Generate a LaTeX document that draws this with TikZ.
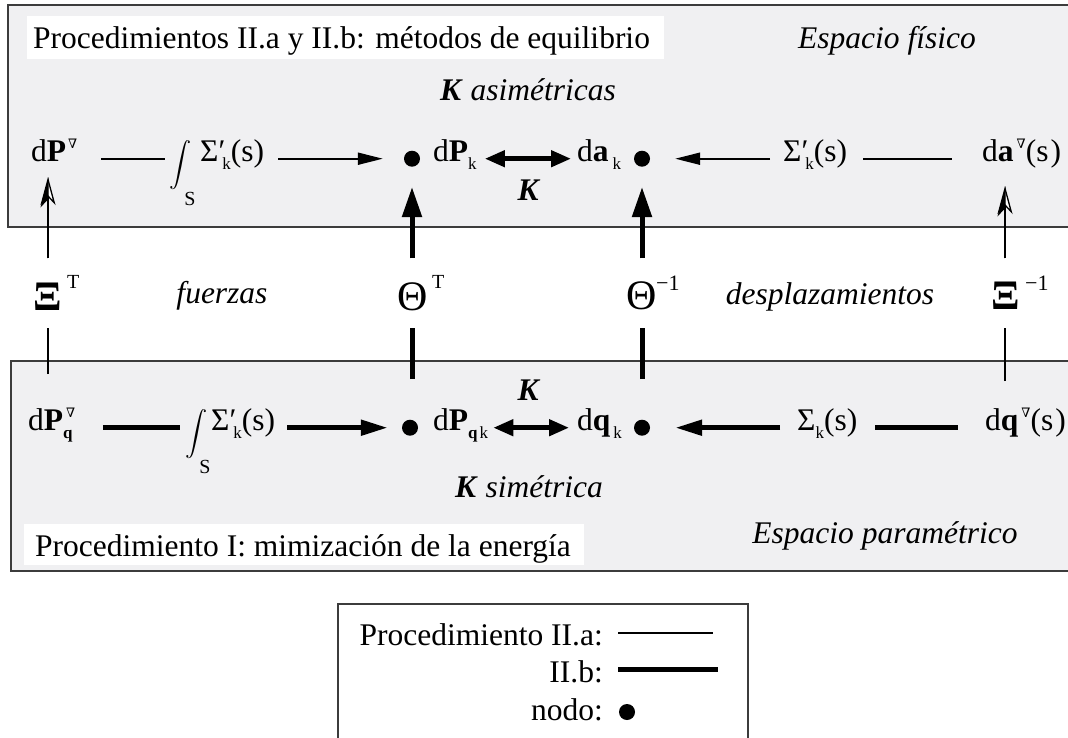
\RequirePackage{fix-cm}
\documentclass[tikz,border=0pt]{standalone}
\usepackage{fontspec}
\usepackage{graphicx}
\setmainfont{Liberation Serif}
\newfontfamily\dvs{DejaVu Serif}
\usetikzlibrary{arrows.meta}
\definecolor{boxgrey}{RGB}{240,240,242}
\definecolor{edgegrey}{RGB}{60,60,60}
\newcommand{\msz}{\fontsize{31.5}{36}\selectfont}
\newcommand{\gsz}{\fontsize{42}{48}\selectfont}
\newcommand{\mysup}[1]{\raisebox{12pt}{\fontsize{17}{17}\selectfont #1}}
\newcommand{\mysub}[1]{\raisebox{-8pt}{\fontsize{17}{17}\selectfont #1}}
\newcommand{\gsupT}{\raisebox{22pt}{\fontsize{20}{20}\selectfont T}}
\newcommand{\gsupI}{\raisebox{19pt}{\fontsize{22}{22}\selectfont −1}}
\newcommand{\nab}{\raisebox{13pt}{\dvs\fontsize{13}{13}\selectfont ∇}}
\newcommand{\intg}{\resizebox{!}{42pt}{$\displaystyle\int$}}
\tikzset{
  every node/.style={inner sep=0pt, font=\msz},
  txt/.style={anchor=base west},
  dotn/.style={circle, fill=black, minimum size=16pt, inner sep=0pt},
  glab/.style={minimum height=69pt, font=\gsz},
  thinln/.style={line width=2pt},
  thickln/.style={line width=5pt},
  thinarr/.style={thinln, -{Triangle[length=25pt,width=12pt]}},
  thickarr/.style={thickln, -{Triangle[length=27pt,width=15pt]}},
  dblarr/.style={line width=4.5pt, {Triangle[length=20pt,width=16pt]}-{Triangle[length=20pt,width=16pt]}},
  vthick/.style={line width=5pt, -{Triangle[length=30pt,width=19pt]}},
  openarr/.style={line width=2pt, -{Stealth[length=28pt,width=15pt,inset=8pt,fill=white,line width=1.3pt]}},
  halfarr/.style={line width=2pt, -{Stealth[length=28pt,width=15pt,inset=8pt,harpoon,line width=1.3pt]}},
  panel/.style={fill=boxgrey, draw=edgegrey, line width=1.5pt},
  kbi/.style={font=\fontsize{31.5}{36}\selectfont\bfseries\itshape}
}
\begin{document}
\begin{tikzpicture}[x=1pt,y=-1pt]
\useasboundingbox (0,0) rectangle (1068,737);
% panels
\draw[panel] (8,5) rectangle (1090,227);
\draw[panel] (11,361) rectangle (1090,571);
\fill[white] (27,16) rectangle (664,59);
\fill[white] (24,524) rectangle (584,565);
% headings
\node[txt] (titTop) at (33,48) {Procedimientos II.a y II.b: métodos de equilibrio};
\node[anchor=base] (espF) at (887,48) {\textit{Espacio físico}};
\node[anchor=base] (kasim) at (528,100) {\textbf{\textit{K}} \textit{asimétricas}};
\node[txt] (titBot) at (35,556) {Procedimiento I: mimización de la energía};
\node[anchor=base] (espP) at (885,543) {\textit{Espacio paramétrico}};
\node[anchor=base] (ksim) at (529,497) {\textbf{\textit{K}} \textit{simétrica}};
% top row
\node[txt] (dPT) at (31,161) {d\textbf{P}\kern2pt\nab};
\node (intT) at (181,165) {\intg};
\node[font=\fontsize{20}{20}\selectfont] (ST) at (190,199) {S};
\node[txt] (SigT) at (200,161) {Σ′\kern-3pt\mysub{k}(s)};
\node[txt] (dPk) at (433,161) {d\textbf{P}\mysub{k}};
\node[dotn] (dotA) at (412,0 |- dPk.mid west) {};
\node[kbi] (Ktop) at (528,190) {K};
\node[txt] (dak) at (577,161) {d\textbf{a}\kern4pt\mysub{k}};
\node[dotn] (dotB) at (642,0 |- dak.mid west) {};
\node[txt] (SigT2) at (783,161) {Σ′\kern-3pt\mysub{k}(s)};
\node[txt] (daT) at (982,161) {d\textbf{a}\kern3pt\nab(s\kern2pt)};
\draw[thinln, shorten <=24pt, shorten >=5pt] (dPT.mid east) -- (intT.west |- dPT.mid east);
\draw[thinarr, shorten <=14pt, shorten >=21pt] (SigT.mid east) -- (dotA.west);
\draw[dblarr, shorten <=8pt, shorten >=6pt] (dPk.mid east) -- (dak.mid west);
\draw[thinarr, shorten <=13pt, shorten >=25pt] (SigT2.mid west) -- (dotB.east);
\draw[thinln, shorten <=16pt, shorten >=30pt] (SigT2.mid east) -- (daT.mid west);
% bottom row
\node[txt] (dPqB) at (28,430) {d\textbf{P}\rlap{\kern3pt\nab}\mysub{\textbf{q}}};
\node (intB) at (197,434) {\intg};
\node[font=\fontsize{20}{20}\selectfont] (SB) at (205,467) {S};
\node[txt] (SigB) at (211,430) {Σ′\kern-3pt\mysub{k}(s)};
\node[txt] (dPqk) at (433,430) {d\textbf{P}\mysub{\textbf{q}\kern2pt k}};
\node[dotn] (dotC) at (410,0 |- dPqk.mid west) {};
\node[kbi] (Kbot) at (528,390) {K};
\node[txt] (dqk) at (577,430) {d\textbf{q}\kern3pt\mysub{k}};
\node[dotn] (dotD) at (642,0 |- dqk.mid west) {};
\node[txt] (SigkB) at (797,430) {Σ\mysub{k}(s)};
\node[txt] (dqB) at (985,430) {d\textbf{q}\kern3pt\nab(s\kern2pt)};
\draw[thickln, shorten <=30pt, shorten >=6pt] (dPqB.mid east) -- (intB.west |- dPqB.mid east);
\draw[thickarr, shorten <=12pt, shorten >=14pt] (SigB.mid east) -- (dotC.west);
\draw[dblarr, shorten <=5pt, shorten >=8pt] (dPqk.mid east) -- (dqk.mid west);
\draw[thickarr, shorten <=17pt, shorten >=25pt] (SigkB.mid west) -- (dotD.east);
\draw[thickln, shorten <=18pt, shorten >=27pt] (SigkB.mid east) -- (dqB.mid west);
% middle labels
\node[glab] (XiT) at (48,293) {\textbf{Ξ}\rlap{\kern5pt\gsupT}};
\node[anchor=base] (fuer) at (222,303) {\textit{fuerzas}};
\node[glab] (ThT) at (413,293) {Θ\rlap{\kern4pt\gsupT}};
\node[glab] (ThI) at (642,293) {Θ\rlap{\kern-1pt\gsupI}};
\node[anchor=base] (despl) at (830,304) {\textit{desplazamientos}};
\node[glab] (XiI) at (1006,293) {\textbf{Ξ}\rlap{\kern5pt\gsupI}};
% vertical connectors
\coordinate (tXiT) at (48,177);
\coordinate (bXiT) at (48,374);
\coordinate (tThT) at (412,187);
\coordinate (bThT) at (412,379);
\coordinate (tThI) at (642,187);
\coordinate (bThI) at (642,379);
\coordinate (tXiI) at (1005,186);
\coordinate (bXiI) at (1005,381);
\draw[thinln] (bXiT) -- (XiT.south -| bXiT);
\draw[openarr] (XiT.north -| tXiT) -- (tXiT);
\draw[halfarr] (XiT.north -| tXiT) -- (tXiT);
\draw[thickln] (bThT) -- (ThT.south -| bThT);
\draw[vthick] (ThT.north -| tThT) -- (tThT);
\draw[thickln] (bThI) -- (ThI.south -| bThI);
\draw[vthick] (ThI.north -| tThI) -- (tThI);
\draw[thinln] (bXiI) -- (XiI.south -| bXiI);
\draw[openarr] (XiI.north -| tXiI) -- (tXiI);
\draw[halfarr] (XiI.north -| tXiI) -- (tXiI);
% legend
\draw[draw=edgegrey, line width=1.5pt] (338,604) rectangle (748,770);
\node[anchor=base east] (lgA) at (603,645) {Procedimiento II.a:};
\node[anchor=base east] (lgB) at (603,682) {II.b:};
\node[anchor=base east] (lgC) at (603,720) {nodo:};
\coordinate (lgA1) at (618,633);
\coordinate (lgA2) at (713,633);
\coordinate (lgB1) at (618,669);
\coordinate (lgB2) at (718,669);
\draw[line width=1.8pt] (lgA1) -- (lgA2);
\draw[thickln] (lgB1) -- (lgB2);
\node[dotn] (lgDot) at (627,712) {};
\end{tikzpicture}
\end{document}
